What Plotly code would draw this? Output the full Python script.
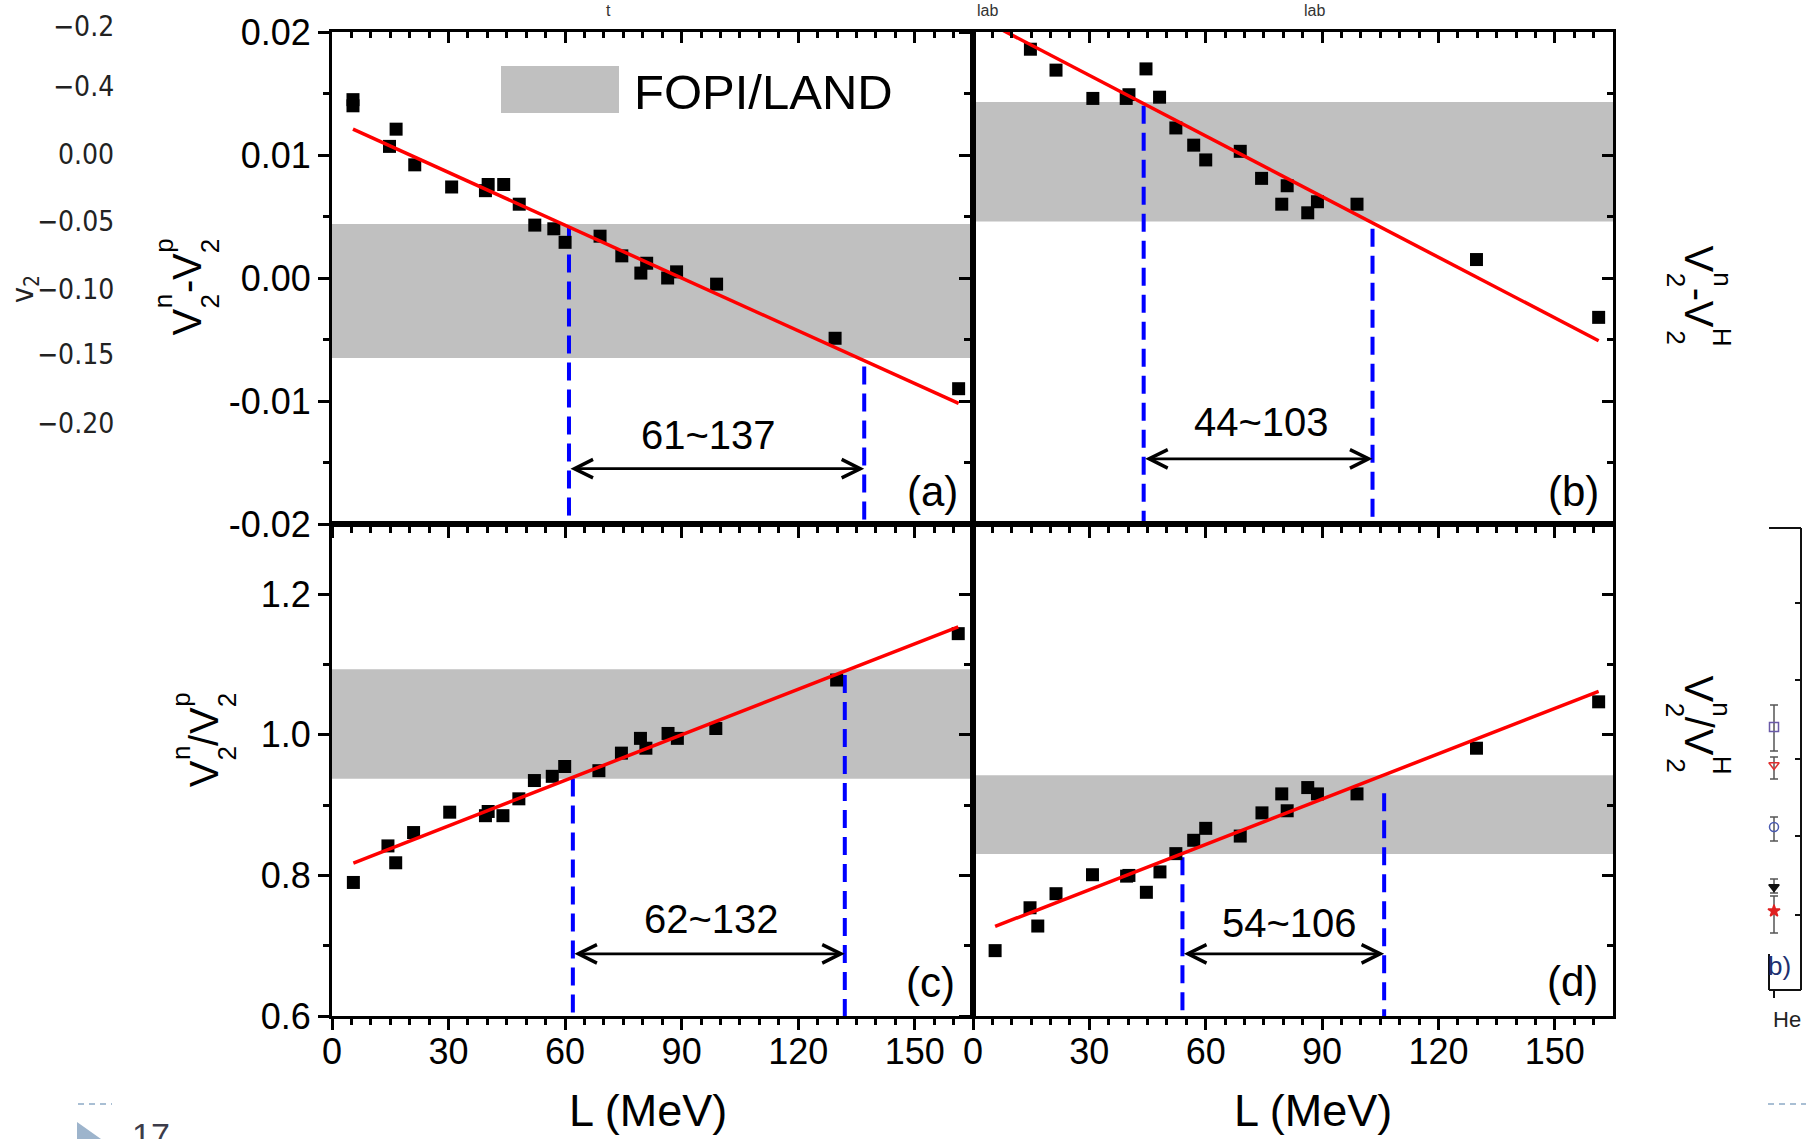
import plotly.graph_objects as go

W, H = 1806, 1139
FONT = "Liberation Sans, Arial, Helvetica, sans-serif"

# ------------------------------------------------------------------ data
x_range = [0, 165]
x_major = [0, 30, 60, 90, 120, 150]
x_minor = [5, 10, 15, 20, 25, 35, 40, 45, 50, 55, 65, 70, 75, 80, 85, 95, 100,
           105, 110, 115, 125, 130, 135, 140, 145, 155, 160]

diff_range = [-0.02, 0.02]
diff_major = [-0.02, -0.01, 0.0, 0.01, 0.02]
diff_major_text = ["-0.02", "-0.01", "0.00", "0.01", "0.02"]
diff_minor = [-0.015, -0.005, 0.005, 0.015]

ratio_range = [0.6, 1.3]
ratio_major = [0.6, 0.8, 1.0, 1.2]
ratio_major_text = ["0.6", "0.8", "1.0", "1.2"]
ratio_minor = [0.7, 0.9, 1.1]

# (a) v2n - v2p
L_a = [5.4, 5.4, 14.8, 16.5, 21.3, 30.8, 39.5, 40.2, 44.2, 48.2, 52.2, 57.1,
       60.0, 69.0, 74.6, 79.5, 81.0, 86.4, 88.7, 99.0, 129.5, 161.3]
v2n_minus_v2p = [0.0145, 0.0140, 0.0107, 0.0121, 0.0092, 0.0074, 0.0071, 0.0076,
                 0.0076, 0.0060, 0.0043, 0.0040, 0.0029, 0.0034, 0.0018, 0.0004,
                 0.0012, 0.0000, 0.0005, -0.0005, -0.0049, -0.0090]
fit_a_L = [5.4, 161.3]
fit_a_v = [0.0121, -0.0102]
band_a = [-0.0065, 0.0044]
range_a = [61, 137]
dash_top_a = [0.0041, -0.0072]

# (b) v2n - v2H
L_b = [14.8, 21.4, 30.9, 39.5, 40.2, 44.6, 48.1, 52.3, 56.9, 60.0, 68.9, 74.4,
       79.6, 81.0, 86.3, 88.8, 99.0, 129.8, 161.3]
v2n_minus_v2H = [0.0186, 0.0169, 0.0146, 0.0146, 0.0149, 0.0170, 0.0147, 0.0122,
                 0.0108, 0.0096, 0.0103, 0.0081, 0.0060, 0.0075, 0.0053, 0.0062,
                 0.0060, 0.0015, -0.0032]
fit_b_L = [5.5, 161.3]
fit_b_v = [0.0205, -0.0051]
band_b = [0.0046, 0.0143]
range_b = [44, 103]
dash_top_b = [0.0140, 0.0040]

# (c) v2n / v2p
L_c = [5.5, 14.4, 16.4, 21.0, 30.3, 39.5, 40.2, 44.0, 48.1, 52.1, 56.7, 59.9,
       68.7, 74.5, 79.4, 80.8, 86.5, 88.9, 98.8, 129.9, 161.2]
v2n_over_v2p = [0.790, 0.842, 0.818, 0.861, 0.890, 0.885, 0.891, 0.885, 0.909,
                0.935, 0.941, 0.955, 0.949, 0.974, 0.995, 0.981, 1.002, 0.995,
                1.009, 1.078, 1.144]
fit_c_L = [5.5, 161.2]
fit_c_v = [0.8176, 1.1538]
band_c = [0.9375, 1.0935]
range_c = [62, 132]
dash_top_c = [0.938, 1.085]

# (d) v2n / v2H
L_d = [5.7, 14.7, 16.7, 21.4, 30.8, 39.6, 40.2, 44.7, 48.2, 52.3, 56.9, 60.0,
       68.9, 74.5, 79.6, 81.0, 86.3, 88.8, 99.0, 129.8, 161.3]
v2n_over_v2H = [0.693, 0.754, 0.728, 0.774, 0.801, 0.799, 0.800, 0.776, 0.805,
                0.831, 0.850, 0.867, 0.856, 0.889, 0.916, 0.892, 0.925, 0.916,
                0.916, 0.981, 1.047]
fit_d_L = [5.7, 161.3]
fit_d_v = [0.7275, 1.0618]
band_d = [0.8305, 0.9425]
range_d = [54, 106]
dash_top_d = [0.826, 0.917]

arrow_y = [-0.0155, -0.0147, 0.6885, 0.6885]
range_label_x = [96.9, 74.5, 97.6, 81.7]
range_label_y = [-0.0128, -0.0117, 0.738, 0.732]
panel_tags = ["(a)", "(b)", "(c)", "(d)"]

# y-axis titles: (big char) or (superscript, subscript) stacks
title_a = [("V",), ("n", "2"), ("-",), ("V",), ("p", "2")]
title_b = [("V",), ("n", "2"), ("-",), ("V",), ("H", "2")]
title_c = [("V",), ("n", "2"), ("/",), ("V",), ("p", "2")]
title_d = [("V",), ("n", "2"), ("/",), ("V",), ("H", "2")]

# slide leftovers (another figure partly visible)
left_ticks_text = ["\u22120.2", "\u22120.4", "0.00", "\u22120.05", "\u22120.10", "\u22120.15", "\u22120.20"]
left_ticks_py = [26, 86, 154, 221, 289, 355, 423]
inset_px = [1774, 1774, 1774, 1774, 1774]
inset_py = [727, 765, 827, 887, 911]
inset_up = [22, 8, 10, 8, 15]
inset_dn = [24, 14, 14, 6, 22]
inset_sym = ["square-open", "triangle-down-open", "circle-open", "triangle-down", "star"]
inset_col = ["#6a5aa8", "#e03030", "#4a5ab0", "#111111", "#e02020"]

# ------------------------------------------------------------------ layout geometry (px)
PX_L, PX_M, PX_R = 332, 973, 1613
PY_T, PY_M, PY_B = 32, 524, 1016


def fx(px):
    return px / W


def fy(py):
    return 1 - py / H


dom_x_left = [fx(PX_L), fx(PX_M)]
dom_x_right = [fx(PX_M), fx(PX_R)]
dom_y_top = [fy(PY_M), fy(PY_T)]
dom_y_bot = [fy(PY_B), fy(PY_M)]

panels = [
    dict(xa="x", ya="y", L=L_a, v=v2n_minus_v2p, fL=fit_a_L, fv=fit_a_v, band=band_a,
         rng=range_a, dtop=dash_top_a, yr=diff_range),
    dict(xa="x2", ya="y2", L=L_b, v=v2n_minus_v2H, fL=fit_b_L, fv=fit_b_v, band=band_b,
         rng=range_b, dtop=dash_top_b, yr=diff_range),
    dict(xa="x3", ya="y3", L=L_c, v=v2n_over_v2p, fL=fit_c_L, fv=fit_c_v, band=band_c,
         rng=range_c, dtop=dash_top_c, yr=ratio_range),
    dict(xa="x4", ya="y4", L=L_d, v=v2n_over_v2H, fL=fit_d_L, fv=fit_d_v, band=band_d,
         rng=range_d, dtop=dash_top_d, yr=ratio_range),
]

fig = go.Figure()
shapes = []
annotations = []

for i, p in enumerate(panels):
    shapes.append(dict(type="rect", xref=p["xa"] + " domain", yref=p["ya"],
                       x0=0, x1=1, y0=p["band"][0], y1=p["band"][1],
                       fillcolor="#C0C0C0", line=dict(width=0), layer="below"))
    lo, hi = p["rng"]
    ymin = p["yr"][0]
    fig.add_trace(go.Scatter(
        x=[lo, lo, None, hi, hi], y=[p["dtop"][0], ymin, None, p["dtop"][1], ymin],
        mode="lines", line=dict(color="#0000FF", width=4, dash="18px,9px"),
        xaxis=p["xa"], yaxis=p["ya"], showlegend=False, hoverinfo="skip"))
    fig.add_trace(go.Scatter(
        x=p["L"], y=p["v"], mode="markers",
        marker=dict(symbol="square", size=13, color="black", line=dict(width=0)),
        xaxis=p["xa"], yaxis=p["ya"], showlegend=False))
    fig.add_trace(go.Scatter(
        x=p["fL"], y=p["fv"], mode="lines", line=dict(color="#FF0000", width=3.5),
        xaxis=p["xa"], yaxis=p["ya"], showlegend=False))
    annotations.append(dict(x=hi, y=arrow_y[i], ax=lo, ay=arrow_y[i],
                            xref=p["xa"], yref=p["ya"], axref=p["xa"], ayref=p["ya"],
                            text="", showarrow=True, arrowhead=5, arrowside="end+start",
                            arrowsize=1.3, arrowwidth=2.8, arrowcolor="black"))
    annotations.append(dict(x=range_label_x[i], y=range_label_y[i], xref=p["xa"], yref=p["ya"],
                            text=f"{lo}~{hi}", showarrow=False,
                            font=dict(family=FONT, size=40, color="black")))

tag_pos = [(932, 491), (1573, 491), (930, 982), (1572, 981)]
for t, (px, py) in zip(panel_tags, tag_pos):
    annotations.append(dict(x=fx(px), y=fy(py), xref="paper", yref="paper", text=t,
                            showarrow=False, font=dict(family=FONT, size=42, color="black")))

# legend swatch
shapes.append(dict(type="rect", xref="paper", yref="paper", x0=fx(501), x1=fx(619),
                   y0=fy(113), y1=fy(66), fillcolor="#C0C0C0", line=dict(width=0)))
annotations.append(dict(x=fx(632), y=fy(92), xref="paper", yref="paper", text="FOPI/LAND",
                        xanchor="left", yanchor="middle", showarrow=False,
                        font=dict(family=FONT, size=49, color="black")))

# x-axis titles
for cx in (648, 1313):
    annotations.append(dict(x=fx(cx), y=fy(1110), xref="paper", yref="paper", text="L (MeV)",
                            showarrow=False, font=dict(family=FONT, size=45, color="black")))

# stacked y-axis titles
CW = {"V": 0.667, "n": 0.556, "p": 0.556, "H": 0.722, "2": 0.556, "-": 0.333, "/": 0.278}


def stacked_title(parts, cx, cy, angle, F=40, f=26):
    widths = []
    for part in parts:
        if len(part) == 1:
            widths.append(CW[part[0]] * F)
        else:
            widths.append(max(CW[part[0]], CW[part[1]]) * f + 1)
    total = sum(widths)
    rdir = -1 if angle == -90 else 1          # reading direction along screen y
    updir = -1 if angle == -90 else 1         # text "up" along screen x
    s = -total / 2
    off = 0.58 * F
    out = []
    for part, w in zip(parts, widths):
        sc = s + w / 2
        py = cy + rdir * sc
        if len(part) == 1:
            out.append(dict(x=fx(cx), y=fy(py), text=part[0], textangle=angle,
                            font=dict(family=FONT, size=F, color="black")))
        else:
            out.append(dict(x=fx(cx + updir * off), y=fy(py), text=part[0], textangle=angle,
                            font=dict(family=FONT, size=f, color="black")))
            out.append(dict(x=fx(cx - updir * off), y=fy(py), text=part[1], textangle=angle,
                            font=dict(family=FONT, size=f, color="black")))
        s += w
    for a in out:
        a.update(xref="paper", yref="paper", showarrow=False)
    return out


annotations += stacked_title(title_a, 187, 287, -90)
annotations += stacked_title(title_c, 204, 740, -90)
annotations += stacked_title(title_b, 1699, 296, 90)
annotations += stacked_title(title_d, 1699, 725, 90)

# slide leftovers
SMALLF = "Liberation Sans Narrow, DejaVu Sans Condensed, sans-serif"
for t, py in zip(left_ticks_text, left_ticks_py):
    annotations.append(dict(x=fx(116), y=fy(py), xref="paper", yref="paper", text=t,
                            xanchor="right", showarrow=False,
                            font=dict(family=SMALLF, size=28, color="#222222")))
annotations.append(dict(x=fx(24), y=fy(289), xref="paper", yref="paper", text="v<sub>2</sub>",
                        textangle=-90, showarrow=False,
                        font=dict(family=SMALLF, size=30, color="#222222")))
for t, px in [("t", 608), ("lab", 987), ("lab", 1314)]:
    annotations.append(dict(x=fx(px), y=1, xref="paper", yref="paper", text=t,
                            yanchor="top", showarrow=False,
                            font=dict(family=FONT, size=16, color="#333333")))
annotations.append(dict(x=fx(1779), y=fy(966), xref="paper", yref="paper", text="b)",
                        showarrow=False, font=dict(family=FONT, size=26, color="#203070")))
annotations.append(dict(x=fx(1787), y=fy(1019), xref="paper", yref="paper", text="He",
                        showarrow=False, font=dict(family=FONT, size=22, color="#222222")))

# explicit anchors (paper-referenced "auto" anchors would shift texts)
for a in annotations:
    a.setdefault("xanchor", "center")
    a.setdefault("yanchor", "middle")

for (x0, y0, x1, y1) in [(1769, 528, 1801, 528), (1801, 528, 1801, 990), (1769, 990, 1801, 990),
                         (1769, 954, 1769, 990), (1774, 990, 1774, 998),
                         (1795, 603, 1801, 603), (1795, 680, 1801, 680), (1795, 759, 1801, 759),
                         (1795, 836, 1801, 836), (1795, 915, 1801, 915)]:
    shapes.append(dict(type="line", xref="paper", yref="paper", x0=fx(x0), y0=fy(y0),
                       x1=fx(x1), y1=fy(y1), line=dict(color="#111111", width=2)))
for (x0, x1) in [(78, 112), (1768, 1806)]:
    shapes.append(dict(type="line", xref="paper", yref="paper", x0=fx(x0), y0=fy(1104),
                       x1=fx(x1), y1=fy(1104), line=dict(color="#a9bfd4", width=2, dash="6px,5px")))
shapes.append(dict(type="path", xref="paper", yref="paper",
                   path=f"M{fx(77)},{fy(1122)} L{fx(77)},{fy(1139)} L{fx(101)},{fy(1139)} Z",
                   fillcolor="#9db4cc", line=dict(width=0)))

# inset markers of the neighbouring figure
fig.add_trace(go.Scatter(
    x=inset_px, y=inset_py, mode="markers", xaxis="x7", yaxis="y7",
    marker=dict(symbol=inset_sym, color=inset_col, size=9, line=dict(width=1.5, color=inset_col)),
    error_y=dict(type="data", array=inset_dn, arrayminus=inset_up, color="#555555",
                 thickness=1.5, width=4),
    showlegend=False, hoverinfo="skip"))
# slide number (clipped at the bottom edge like in the slide)
fig.add_trace(go.Scatter(
    x=[132], y=[1138], mode="text", text=["17"], textposition="middle right",
    textfont=dict(family=FONT, size=34, color="#3c3c4a"), xaxis="x7", yaxis="y7",
    showlegend=False, hoverinfo="skip", cliponaxis=True))

for xa, ya in [("x5", "y"), ("x6", "y2"), ("x2", "y5"), ("x4", "y6")]:
    fig.add_trace(go.Scatter(x=[None], y=[None], xaxis=xa, yaxis=ya,
                             showlegend=False, hoverinfo="skip"))

# ------------------------------------------------------------------ axes
TICKF = dict(family=FONT, size=36, color="black")
base = dict(showline=True, linecolor="black", linewidth=3, mirror=True, showgrid=False,
            zeroline=False, ticks="outside", ticklen=11, tickwidth=3, tickcolor="black",
            tickfont=TICKF, automargin=False)


def xax(domain, anchor, labels):
    return dict(base, domain=domain, anchor=anchor, range=x_range, tickmode="array",
                tickvals=x_major, ticktext=[str(v) for v in x_major], showticklabels=labels,
                minor=dict(tickmode="array", tickvals=x_minor, ticks="outside", ticklen=6,
                           tickwidth=3, tickcolor="black", showgrid=False))


def yax(domain, anchor, rng, vals, texts, minor, labels):
    return dict(base, domain=domain, anchor=anchor, range=rng, tickmode="array",
                tickvals=vals, ticktext=texts, showticklabels=labels,
                minor=dict(tickmode="array", tickvals=minor, ticks="outside", ticklen=6,
                           tickwidth=3, tickcolor="black", showgrid=False))


def over_x(over, anchor):
    return dict(overlaying=over, anchor=anchor, side="top", range=x_range, showline=False,
                showgrid=False, zeroline=False, ticks="inside", ticklen=11, tickwidth=3,
                tickcolor="black", showticklabels=False, tickmode="array", tickvals=x_major,
                automargin=False,
                minor=dict(tickmode="array", tickvals=x_minor, ticks="inside", ticklen=6,
                           tickwidth=3, tickcolor="black", showgrid=False))


def over_y(over, anchor, rng, vals, minor):
    return dict(overlaying=over, anchor=anchor, side="right", range=rng, showline=False,
                showgrid=False, zeroline=False, ticks="inside", ticklen=11, tickwidth=3,
                tickcolor="black", showticklabels=False, tickmode="array", tickvals=vals,
                automargin=False,
                minor=dict(tickmode="array", tickvals=minor, ticks="inside", ticklen=6,
                           tickwidth=3, tickcolor="black", showgrid=False))


fig.update_layout(
    template="none",
    width=W, height=H, margin=dict(l=0, r=0, t=0, b=0, pad=0), autosize=False,
    paper_bgcolor="white", plot_bgcolor="rgba(0,0,0,0)",
    showlegend=False, font=dict(family=FONT, color="black"),
    xaxis=xax(dom_x_left, "y", False),
    xaxis2=xax(dom_x_right, "y2", False),
    xaxis3=xax(dom_x_left, "y3", True),
    xaxis4=xax(dom_x_right, "y4", True),
    yaxis=yax(dom_y_top, "x", diff_range, diff_major, diff_major_text, diff_minor, True),
    yaxis2=yax(dom_y_top, "x2", diff_range, diff_major, diff_major_text, diff_minor, False),
    yaxis3=yax(dom_y_bot, "x3", ratio_range, ratio_major, ratio_major_text, ratio_minor, True),
    yaxis4=yax(dom_y_bot, "x4", ratio_range, ratio_major, ratio_major_text, ratio_minor, False),
    xaxis5=over_x("x", "y"),
    xaxis6=over_x("x2", "y2"),
    yaxis5=over_y("y2", "x2", diff_range, diff_major, diff_minor),
    yaxis6=over_y("y4", "x4", ratio_range, ratio_major, ratio_minor),
    xaxis7=dict(domain=[0, 1], anchor="y7", range=[0, W], visible=False, fixedrange=True,
                automargin=False),
    yaxis7=dict(domain=[0, 1], anchor="x7", range=[H, 0], visible=False, fixedrange=True,
                automargin=False),
    shapes=shapes, annotations=annotations,
)

# pull the x tick labels a little closer to the axis, as in the reference
for ax_name in ("xaxis3", "xaxis4"):
    try:
        fig.layout[ax_name].ticklabelstandoff = -9
    except Exception:
        pass

fig.write_html("out.html")
